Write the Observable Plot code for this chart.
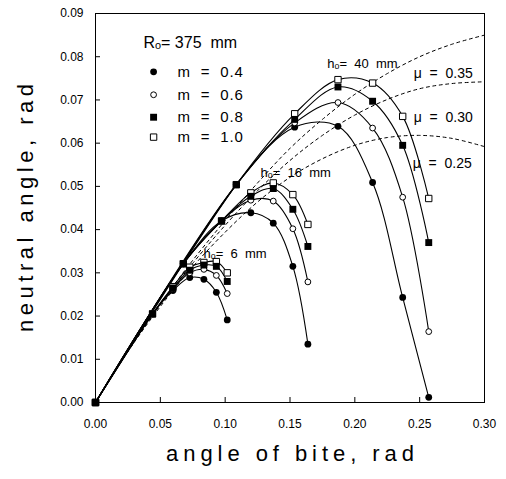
<!DOCTYPE html>
<html><head><meta charset="utf-8">
<script src="https://cdn.jsdelivr.net/npm/d3@7"></script>
<script src="https://cdn.jsdelivr.net/npm/@observablehq/plot@0.6"></script>
<style>
html,body{margin:0;padding:0;background:#fff;}
</style>
</head><body>
<div id="chart"></div>
<script>
// ---------- data ----------
const xTicks = [0, 0.05, 0.10, 0.15, 0.20, 0.25, 0.30];
const yTicks = [0, 0.01, 0.02, 0.03, 0.04, 0.05, 0.06, 0.07, 0.08, 0.09];

const mValues = [0.4, 0.6, 0.8, 1.0];
const legendLabels = ["m\u00a0\u00a0=\u00a0\u00a00.4", "m\u00a0\u00a0=\u00a0\u00a00.6", "m\u00a0\u00a0=\u00a0\u00a00.8", "m\u00a0\u00a0=\u00a0\u00a01.0"];

// h0 = 6 mm
const h6Bite = [0, 0.044, 0.0597, 0.0727, 0.0836, 0.0932, 0.1016];
const h6m04  = [0, 0.0205, 0.0259, 0.0289, 0.0285, 0.0255, 0.0191];
const h6m06  = [0, 0.0205, 0.0263, 0.0300, 0.0308, 0.0294, 0.0252];
const h6m08  = [0, 0.0205, 0.0265, 0.0306, 0.0318, 0.0315, 0.0280];
const h6m10  = [0, 0.0205, 0.0268, 0.0313, 0.0324, 0.0326, 0.0300];

// h0 = 16 mm
const h16Bite = [0, 0.0677, 0.0972, 0.1198, 0.1371, 0.1522, 0.1638];
const h16m04  = [0, 0.0321, 0.0420, 0.0439, 0.0415, 0.0315, 0.0135];
const h16m06  = [0, 0.0321, 0.0420, 0.0468, 0.0466, 0.0402, 0.0279];
const h16m08  = [0, 0.0321, 0.0420, 0.0477, 0.0495, 0.0447, 0.0361];
const h16m10  = [0, 0.0321, 0.0420, 0.0485, 0.0508, 0.0481, 0.0412];

// h0 = 40 mm
const h40Bite = [0, 0.1086, 0.1536, 0.1870, 0.2137, 0.2369, 0.2570];
const h40m04  = [0, 0.0504, 0.0637, 0.0639, 0.0509, 0.0243, 0.0012];
const h40m06  = [0, 0.0504, 0.0647, 0.0694, 0.0635, 0.0475, 0.0164];
const h40m08  = [0, 0.0504, 0.0655, 0.0730, 0.0697, 0.0595, 0.0370];
const h40m10  = [0, 0.0504, 0.0668, 0.0747, 0.0739, 0.0662, 0.0472];

// friction (mu) curves, dotted
const muValues = [0.25, 0.30, 0.35];
const muBite = [0, 0.025, 0.05, 0.075, 0.10, 0.125, 0.15, 0.175, 0.20, 0.225, 0.25, 0.275, 0.30];
const mu025  = [0, 0.0118, 0.0222, 0.0314, 0.0394, 0.0464, 0.0521, 0.0564, 0.0595, 0.0613, 0.0618, 0.0611, 0.0592];
const mu030  = [0, 0.0119, 0.0226, 0.0322, 0.0410, 0.0490, 0.0560, 0.0618, 0.0665, 0.0701, 0.0726, 0.0738, 0.0742];
const mu035  = [0, 0.0120, 0.0229, 0.0329, 0.0421, 0.0508, 0.0588, 0.0655, 0.0713, 0.0761, 0.0800, 0.0829, 0.0850];

// annotation texts
const annoTexts = ["R\u2092=\u00a0375\u00a0\u00a0mm", "h\u2092=\u00a0\u00a040\u00a0\u00a0mm", "h\u2092=\u00a0\u00a016\u00a0\u00a0mm", "h\u2092=\u00a0\u00a06\u00a0\u00a0mm",
                   "\u03bc\u00a0\u00a0=\u00a0\u00a00.35", "\u03bc\u00a0\u00a0=\u00a0\u00a00.30", "\u03bc\u00a0\u00a0=\u00a0\u00a00.25"];
const xTitle = "angle of bite, rad";
const yTitle = "neutral angle, rad";

// ---------- build tables ----------
const groups = [
  {h: 6, bite: h6Bite, ys: [h6m04, h6m06, h6m08, h6m10]},
  {h: 16, bite: h16Bite, ys: [h16m04, h16m06, h16m08, h16m10]},
  {h: 40, bite: h40Bite, ys: [h40m04, h40m06, h40m08, h40m10]}
];
const rows = [];
for (const g of groups) g.ys.forEach((ys, i) => ys.forEach((y, j) => rows.push({h: g.h, m: mValues[i], x: g.bite[j], y})));

const muRows = [];
[mu025, mu030, mu035].forEach((ys, i) => ys.forEach((y, j) => muRows.push({mu: muValues[i], x: muBite[j], y})));

// layout of annotations (data coordinates)
const annoPos = [
  {x: 0.0370, y: 0.0831, size: 16},
  {x: 0.1788, y: 0.0784, size: 13},
  {x: 0.1273, y: 0.0532, size: 13},
  {x: 0.0833, y: 0.0345, size: 13},
  {x: 0.2454, y: 0.0761, size: 14},
  {x: 0.2454, y: 0.0660, size: 14},
  {x: 0.2446, y: 0.0552, size: 14}
];
const annoRows = annoTexts.map((t, i) => ({t, ...annoPos[i]}));

const legendX = 0.0448, legendTextX = 0.0633;
const legendYs = [0.0765, 0.0712, 0.0660, 0.0614];
const legendRows = mValues.map((m, i) => ({m, label: legendLabels[i], y: legendYs[i]}));

const markerStyle = {
  0.4: {symbol: "circle", fill: "black", stroke: "none", r: 3.4},
  0.6: {symbol: "circle", fill: "white", stroke: "black", strokeWidth: 1, r: 2.9},
  0.8: {symbol: "square", fill: "black", stroke: "none", r: 3.9},
  1.0: {symbol: "square", fill: "white", stroke: "black", strokeWidth: 1, r: 3.6}
};
const drawOrder = [0.4, 0.6, 1.0, 0.8];

const dotMarks = drawOrder.map(m => Plot.dot(rows.filter(d => d.m === m), {x: "x", y: "y", ...markerStyle[m]}));
const legendDots = drawOrder.map(m => Plot.dot(legendRows.filter(d => d.m === m), {x: () => legendX, y: "y", ...markerStyle[m]}));

const chart = Plot.plot({
  width: 506, height: 479,
  marginLeft: 95, marginRight: 22, marginTop: 13, marginBottom: 77,
  x: {domain: [0, 0.30]},
  y: {domain: [0, 0.09]},
  style: {fontFamily: "'Liberation Sans', Arial, sans-serif", fontSize: "12px", background: "white", color: "black", overflow: "visible"},
  marks: [
    Plot.frame({stroke: "black", strokeWidth: 1}),
    Plot.axisX(xTicks, {tickSize: -5, tickPadding: 22, tickFormat: d3.format(".2f"), label: null, fontSize: 12}),
    Plot.axisY(yTicks, {tickSize: -5, tickPadding: 17, tickFormat: d3.format(".2f"), label: null, fontSize: 12}),
    Plot.line(muRows, {x: "x", y: "y", z: "mu", stroke: "black", strokeWidth: 1, strokeDasharray: "3,3.5", curve: "catmull-rom"}),
    Plot.line(rows, {x: "x", y: "y", z: d => d.h + "-" + d.m, stroke: "black", strokeWidth: 1.1, curve: "catmull-rom"}),
    ...dotMarks,
    ...legendDots,
    Plot.text(legendRows, {x: () => legendTextX, y: "y", text: "label", textAnchor: "start", fontSize: 15}),
    Plot.text(annoRows, {x: "x", y: "y", text: "t", textAnchor: "start", fontSize: d => d.size}),
    Plot.text([xTitle], {frameAnchor: "bottom", dy: 58, fontSize: 22, text: d => d, textAnchor: "middle"}),
    Plot.text([yTitle], {frameAnchor: "left", dx: -70, rotate: -90, fontSize: 22, text: d => d, textAnchor: "middle", lineAnchor: "middle"})
  ]
});
document.getElementById("chart").appendChild(chart);
const svg = d3.select(chart);
svg.selectAll("text").each(function() {
  const t = this.textContent;
  if (t === xTitle || t === yTitle) {
    this.setAttribute("textLength", "248");
    this.setAttribute("lengthAdjust", "spacing");
  } else if (legendLabels.includes(t)) {
    this.style.letterSpacing = "0.8px";
  }
});
</script>
</body></html>
